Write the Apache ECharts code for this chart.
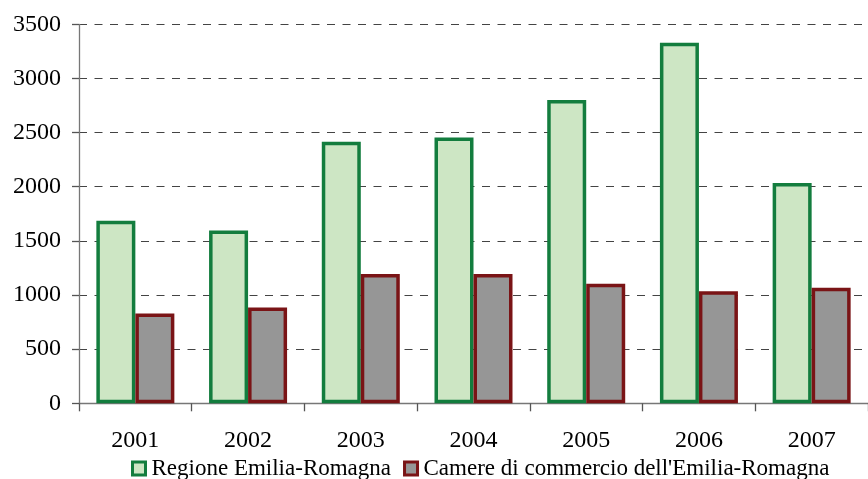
<!DOCTYPE html>
<html>
<head>
<meta charset="utf-8">
<script src="https://cdn.jsdelivr.net/npm/echarts@6/dist/echarts.min.js"></script>
<style>
html,body{margin:0;padding:0;background:#fff;}
#chart{width:868px;height:479px;}
</style>
</head>
<body>
<div id="chart"></div>
<script>
const categories = ['2001','2002','2003','2004','2005','2006','2007'];
const regioneValues = [1685, 1595, 2415, 2455, 2800, 3330, 2035];
const camereValues = [830, 885, 1195, 1195, 1105, 1035, 1068];
const seriesNames = ['Regione Emilia-Romagna', "Camere di commercio dell'Emilia-Romagna"];
const yTicks = [0, 500, 1000, 1500, 2000, 2500, 3000, 3500];

const FONT = "'Liberation Serif', 'Times New Roman', serif";
const chart = echarts.init(document.getElementById('chart'), null, {renderer: 'canvas'});
chart.setOption({
  animation: false,
  backgroundColor: '#ffffff',
  textStyle: {fontFamily: FONT},
  grid: {left: 79, right: -9, top: 24.3, bottom: 75.7, containLabel: false},
  legend: {
    top: 457,
    left: 131,
    padding: 0,
    icon: 'rect',
    itemWidth: 13,
    itemHeight: 13,
    itemGap: 12,
    itemStyle: {borderWidth: 3},
    textStyle: {fontFamily: FONT, fontSize: 23, color: '#000', padding: [0,0,0,1]},
    data: seriesNames
  },
  xAxis: {
    type: 'category',
    data: categories,
    boundaryGap: true,
    axisLine: {show: true, lineStyle: {color: '#777777', width: 1.3}},
    axisTick: {show: true, length: 8, alignWithLabel: false, lineStyle: {color: '#555555', width: 1.3}},
    axisLabel: {fontFamily: FONT, fontSize: 24, color: '#000', margin: 25},
    splitLine: {show: false}
  },
  yAxis: {
    type: 'value',
    min: yTicks[0],
    max: yTicks[yTicks.length - 1],
    interval: 500,
    axisLine: {show: true, lineStyle: {color: '#777777', width: 1.3}},
    axisTick: {show: true, length: 7, lineStyle: {color: '#555555', width: 1.3}},
    axisLabel: {fontFamily: FONT, fontSize: 24, color: '#000', margin: 18, formatter: v => String(v)},
    splitLine: {show: true, lineStyle: {color: '#444444', width: 1, type: [8, 7.5]}}
  },
  series: [
    {
      name: seriesNames[0],
      type: 'bar',
      data: regioneValues,
      barWidth: 39,
      barGap: '0%',
      itemStyle: {color: '#cde6c4', borderColor: '#137d3e', borderWidth: 3.5}
    },
    {
      name: seriesNames[1],
      type: 'bar',
      data: camereValues,
      barWidth: 39,
      barGap: '0%',
      itemStyle: {color: '#969696', borderColor: '#7a1416', borderWidth: 3.5}
    }
  ]
});
</script>
</body>
</html>
